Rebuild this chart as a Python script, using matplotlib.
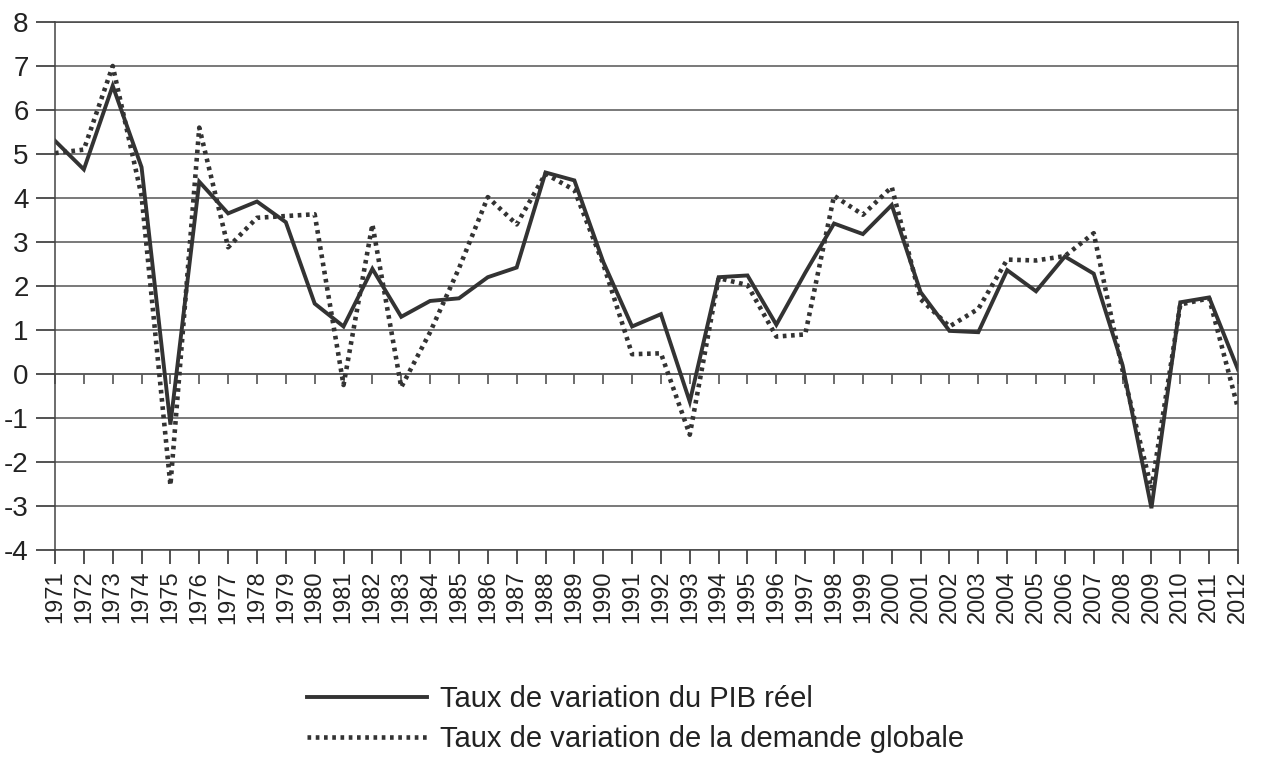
import matplotlib
matplotlib.use("Agg")
import matplotlib.pyplot as plt
import numpy as np

years = list(range(1971, 2013))
pib = [5.3, 4.65, 6.55, 4.7, -1.15, 4.37, 3.65, 3.92, 3.45, 1.6,
       1.08, 2.39, 1.3, 1.66, 1.72, 2.2, 2.42, 4.58, 4.4, 2.55,
       1.08, 1.36, -0.63, 2.2, 2.24, 1.12, 2.3, 3.42, 3.18, 3.84,
       1.86, 0.98, 0.95, 2.36, 1.88, 2.67, 2.28, 0.2, -3.05, 1.63,
       1.74, 0.1]
demande = [5.02, 5.1, 7.0, 4.05, -2.53, 5.6, 2.88, 3.55, 3.59, 3.63,
           -0.25, 3.4, -0.3, 0.95, 2.4, 4.02, 3.4, 4.55, 4.18, 2.5,
           0.45, 0.47, -1.38, 2.18, 2.02, 0.85, 0.9, 4.05, 3.62, 4.25,
           1.7, 1.08, 1.48, 2.6, 2.58, 2.68, 3.2, 0.08, -2.6, 1.58,
           1.72, -0.78]
yticks = list(range(-4, 9))
label_pib = "Taux de variation du PIB réel"
label_dem = "Taux de variation de la demande globale"

plt.rcParams['font.family'] = ['Liberation Sans', 'DejaVu Sans']
plt.rcParams['axes.unicode_minus'] = False

W, H = 1261, 758
fig = plt.figure(figsize=(W / 100, H / 100), dpi=100)
ax = fig.add_axes([55 / W, 1 - 550 / H, (1238 - 55) / W, (550 - 22) / H])

ax.set_xlim(years[0], years[-1])
ax.set_ylim(yticks[0], yticks[-1])
ax.set_yticks(yticks)
ax.set_xticks(years)
ax.set_xticklabels([str(y) for y in years], rotation=90)
ax.tick_params(axis='both', colors='#222222', direction='out', width=1.1)
ax.tick_params(axis='y', labelsize=20, length=14, pad=5)
ax.tick_params(axis='x', labelsize=17, length=10, pad=5)
ax.grid(axis='y', color='#555555', linewidth=1.1)
ax.set_axisbelow(True)
for s in ax.spines.values():
    s.set_color('#444444')
    s.set_linewidth(1.1)

# axis crossing at zero with tick marks
loc0 = (0 - yticks[0]) / (yticks[-1] - yticks[0])
sec = ax.secondary_xaxis(loc0)
sec.set_alignment('bottom')
sec.set_xticks(years)
sec.tick_params(axis='x', labelbottom=False, direction='out', length=7,
                width=1.1, colors='#444444')
sec.spines['bottom'].set_color('#666666')
sec.spines['bottom'].set_linewidth(1.1)

l1, = ax.plot(years, pib, color='#333333', linewidth=2.8, solid_joinstyle='miter',
              label=label_pib)
l2, = ax.plot(years, demande, color='#333333', linewidth=3.3,
              linestyle=(0, (0.8, 1.0)), label=label_dem)

fig.legend(handles=[l1, l2], loc='upper left',
           bbox_to_anchor=(307 / W, 1 - 685 / H), frameon=False,
           fontsize=21, handlelength=4.1, handletextpad=0.45,
           labelspacing=0.42, borderpad=0, borderaxespad=0,
           labelcolor='#222222')

fig.savefig("out.png", dpi=100, facecolor='white')
